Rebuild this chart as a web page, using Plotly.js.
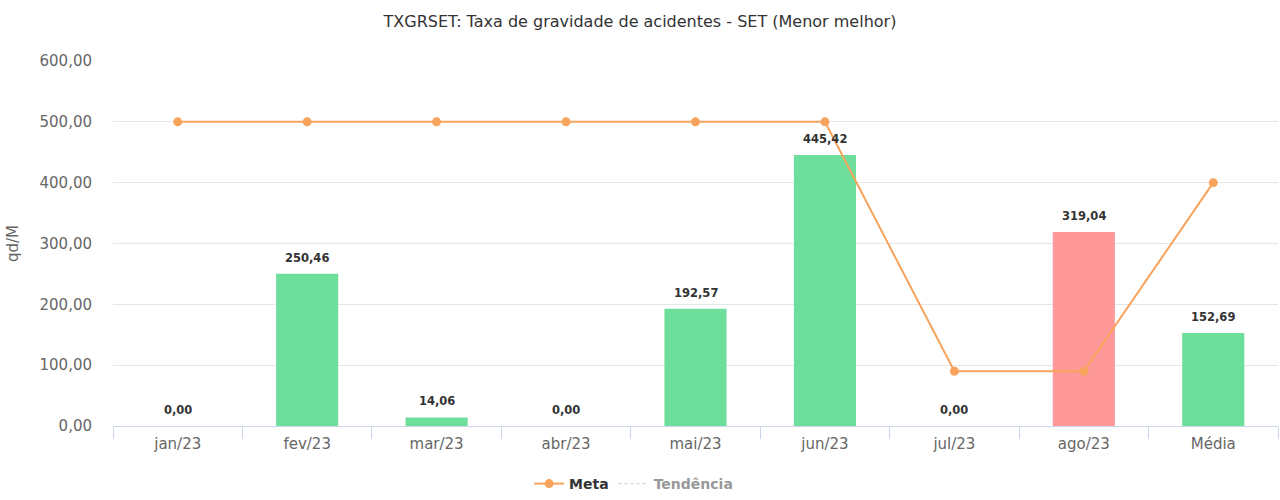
<!DOCTYPE html>
<html>
<head>
<meta charset="utf-8">
<script src="https://cdn.plot.ly/plotly-3.0.1.min.js"></script>
<style>html,body{margin:0;padding:0;background:#fff;}#chart{width:1280px;height:500px;}</style>
</head>
<body>
<div id="chart"></div>
<script>
const categories = ["jan/23","fev/23","mar/23","abr/23","mai/23","jun/23","jul/23","ago/23","Média"];
const valores = [0, 250.46, 14.06, 0, 192.57, 445.42, 0, 319.04, 152.69];
const meta = [500, 500, 500, 500, 500, 500, 90, 90, 400];
const barColors = ["#6ede9c","#6ede9c","#6ede9c","#6ede9c","#6ede9c","#6ede9c","#6ede9c","#ff9999","#6ede9c"];

function fmt(v){ return v.toFixed(2).replace('.', ','); }

const FONT = 'DejaVu Sans, sans-serif';

const traces = [
  {
    type: 'bar', x: categories, y: valores, name: 'Valor', showlegend: false,
    marker: {color: barColors},
    hoverinfo: 'x+y'
  },
  {
    type: 'scatter', mode: 'lines+markers', x: categories, y: meta, name: 'Meta',
    line: {color: '#f7a35c', width: 2}, marker: {color: '#f7a35c', size: 9},
    cliponaxis: false
  },
  {
    type: 'scatter', mode: 'lines', x: categories, y: valores, name: 'Tendência',
    line: {color: '#999', width: 1, dash: 'dot'}, visible: 'legendonly'
  }
];

const annotations = categories.map((c, i) => ({
  x: c, y: valores[i], xref: 'x', yref: 'y', text: '<b>' + fmt(valores[i]) + '</b>',
  showarrow: false, yanchor: 'bottom', yshift: 7,
  font: {family: FONT, size: 11.5, color: '#333'}
}));

const layout = {
  width: 1280, height: 500,
  margin: {l: 113, r: 2, t: 61, b: 74, autoexpand: false},
  paper_bgcolor: '#fff', plot_bgcolor: '#fff',
  font: {family: FONT, color: '#666', size: 15},
  title: {text: 'TXGRSET: Taxa de gravidade de acidentes - SET (Menor melhor)', x: 0.5, xanchor: 'center', y: 0.957, yanchor: 'middle', font: {size: 16, color: '#333'}},
  bargap: 0.52,
  annotations: annotations,
  xaxis: {
    type: 'category', showgrid: false, showline: true, linecolor: '#ccd6eb', linewidth: 1,
    ticks: 'outside', tickson: 'boundaries', ticklen: 12, tickcolor: '#ccd6eb',
    tickfont: {size: 15, color: '#666'}, ticklabelstandoff: 4, fixedrange: true, automargin: false
  },
  yaxis: {
    range: [0, 600], dtick: 100, tickformat: '.2f', showgrid: true, gridcolor: '#e6e6e6',
    zeroline: false, showline: false, ticklabelstandoff: 20, automargin: false,
    tickfont: {size: 15, color: '#666'},
    title: {text: 'qd/M', font: {size: 15, color: '#666'}, standoff: 17}
  },
  separators: ',.',
  legend: {orientation: 'h', xref: 'container', yref: 'container', x: 0.495, xanchor: 'center', y: 0.0, yanchor: 'bottom', font: {size: 14, color: '#333', weight: 'bold'}},
  showlegend: true
};

Plotly.newPlot('chart', traces, layout, {displayModeBar: false});
</script>
</body>
</html>
